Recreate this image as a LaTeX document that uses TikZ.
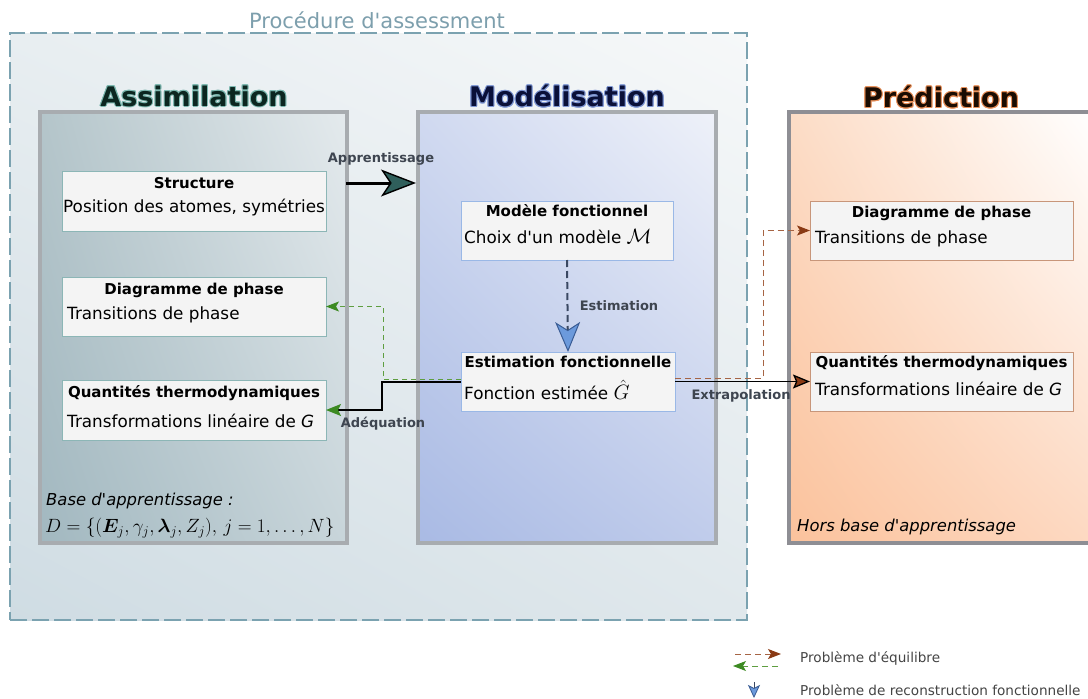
\documentclass[tikz,border=0pt]{standalone}
\usepackage{fontspec}
\usepackage{amsmath,amssymb,bm}
\setmainfont{DejaVu Sans}[Ligatures=TeXOff]
\usetikzlibrary{arrows.meta,calc,shadings}
\definecolor{outerLL}{HTML}{CFDCE3}
\definecolor{outerUL}{HTML}{E8EEF1}
\definecolor{outerUR}{HTML}{F6F8F9}
\definecolor{outerLR}{HTML}{E0E8EC}
\definecolor{outerDash}{HTML}{7BA2B0}
\definecolor{titleGray}{HTML}{7D9FAD}
\definecolor{assLL}{HTML}{A2B8C0}
\definecolor{assUL}{HTML}{B4C5CA}
\definecolor{assUR}{HTML}{E4EAED}
\definecolor{assLR}{HTML}{C8D5DA}
\definecolor{modLL}{HTML}{A9BAE4}
\definecolor{modUL}{HTML}{D0D9F0}
\definecolor{modUR}{HTML}{EEF1F9}
\definecolor{modLR}{HTML}{C0CCEB}
\definecolor{preLL}{HTML}{FBC29C}
\definecolor{preUL}{HTML}{FCDCC6}
\definecolor{preUR}{HTML}{FFFFFF}
\definecolor{preLR}{HTML}{FDD9C2}
\definecolor{panelBorder}{HTML}{A8ACB0}
\definecolor{predBorder}{HTML}{8E8E94}
\definecolor{boxFill}{HTML}{F4F4F4}
\definecolor{tealB}{HTML}{8CB6B6}
\definecolor{blueB}{HTML}{9AB8E6}
\definecolor{brownB}{HTML}{C8967A}
\definecolor{lblGray}{HTML}{3E4550}
\definecolor{apprFill}{HTML}{2F5F5B}
\definecolor{estLine}{HTML}{3A4862}
\definecolor{estFill}{HTML}{6C9ADC}
\definecolor{estEdge}{HTML}{3A5C94}
\definecolor{grnHead}{HTML}{3C8A22}
\definecolor{grnDash}{HTML}{5E9E40}
\definecolor{brnHead}{HTML}{8A3A14}
\definecolor{brnDash}{HTML}{A66444}
\definecolor{assText}{HTML}{0C2620}
\definecolor{assGlow}{HTML}{7DB8B0}
\definecolor{modText}{HTML}{0A1038}
\definecolor{modGlow}{HTML}{8098D4}
\definecolor{preText}{HTML}{1A0C02}
\definecolor{preGlow}{HTML}{E8905A}
\definecolor{legText}{HTML}{444444}
\newcommand{\glowtitle}[5]{%
  \foreach \a in {0,30,...,330} \node[bigt, text=#4] at ($(#1,#2)+(\a:1.0)$) {#3};
  \node[bigt, text=#5] at (#1,#2) {#3};}
\begin{document}
\begin{tikzpicture}[x=1pt,y=-1pt,
  bigt/.style={font=\fontsize{27}{30}\selectfont\bfseries, inner sep=0},
  panel/.style={line width=4pt, inner sep=0, outer sep=0, draw=panelBorder},
  infobox/.style={draw, fill=boxFill, line width=1pt, inner sep=0, outer sep=0},
  boxtitle/.style={font=\fontsize{15}{17}\selectfont\bfseries, inner sep=0},
  boxbody/.style={font=\fontsize{16.8}{19}\selectfont, inner sep=0, anchor=west},
  lbl/.style={font=\fontsize{13}{15}\selectfont\bfseries, text=lblGray, inner sep=0},
  legtxt/.style={font=\fontsize{13.6}{15}\selectfont, text=legText, inner sep=0, anchor=west},
  ital/.style={font=\fontsize{16.4}{18}\selectfont\itshape, inner sep=0, anchor=west}]
\useasboundingbox (0,0) rectangle (1088,699);
\fill[white] (0,0) rectangle (1088,699);

% outer procedure box
\node[inner sep=0, outer sep=0, minimum width=737, minimum height=587,
  lower left=outerLL, upper left=outerUL, upper right=outerUR, lower right=outerLR,
  draw=outerDash, line width=2.5pt, dash pattern=on 17pt off 5pt] (proc) at (378.5,326.5) {};
\node[font=\fontsize{21}{24}\selectfont, text=titleGray, inner sep=0] (proct) at (377,20) {Procédure d'assessment};

% panels
\node[panel, minimum width=307, minimum height=431,
  lower left=assLL, upper left=assUL, upper right=assUR, lower right=assLR] (assim) at (193.5,327.5) {};
\node[panel, minimum width=298, minimum height=431,
  lower left=modLL, upper left=modUL, upper right=modUR, lower right=modLR] (model) at (567,327.5) {};
\node[panel, draw=predBorder, minimum width=306, minimum height=431,
  lower left=preLL, upper left=preUL, upper right=preUR, lower right=preLR] (pred) at (942,327.5) {};

\glowtitle{194}{96}{Assimilation}{assGlow}{assText}
\glowtitle{567}{96}{Modélisation}{modGlow}{modText}
\glowtitle{941}{97}{Prédiction}{preGlow}{preText}

% Assimilation boxes
\node[infobox, draw=tealB, minimum width=264, minimum height=60] (struct) at (194,201) {};
\node[boxtitle] (structT) at ($(struct.north)+(0,12)$) {Structure};
\node[boxbody] (structB) at ($(struct.north west)+(1,37)$) {Position des atomes, symétries};

\node[infobox, draw=tealB, minimum width=264, minimum height=59] (diagL) at (194,306.5) {};
\node[boxtitle] (diagLT) at ($(diagL.north)+(0,13)$) {Diagramme de phase};
\node[boxbody] (diagLB) at ($(diagL.north west)+(5,38)$) {Transitions de phase};

\node[infobox, draw=tealB, minimum width=264, minimum height=60] (quantL) at (194,410) {};
\node[boxtitle] (quantLT) at ($(quantL.north)+(0,13)$) {Quantités thermodynamiques};
\node[boxbody] (quantLB) at ($(quantL.north west)+(5,41)$) {Transformations linéaire de \textit{G}};

\node[ital] (baseT) at (46,501) {Base d'apprentissage :};
\node[inner sep=0, anchor=west, font=\fontsize{17.28}{20}\selectfont] (baseM) at (45,528)
  {\scalebox{1.11}{$D=\{(\boldsymbol{E}_j,\gamma_j,\boldsymbol{\lambda}_j,Z_j),\,j=1,\ldots,N\}$}};

% Modelisation boxes
\node[infobox, draw=blueB, minimum width=212, minimum height=59] (modele) at (567,230.5) {};
\node[boxtitle] (modeleT) at ($(modele.north)+(0,10)$) {Modèle fonctionnel};
\node[boxbody] (modeleB) at ($(modele.north west)+(3,36)$) {Choix d'un modèle {\fontsize{20}{22}\selectfont$\mathcal{M}$}};

\node[infobox, draw=blueB, minimum width=214, minimum height=59] (estim) at (568,381.5) {};
\node[boxtitle] (estimT) at ($(estim.north)+(0,10)$) {Estimation fonctionnelle};
\node[boxbody] (estimB) at ($(estim.north west)+(3,38)$) {Fonction estimée {\fontsize{20}{22}\selectfont$\hat{G}$}};

% Prediction boxes
\node[infobox, draw=brownB, minimum width=263, minimum height=59] (diagR) at (941.5,230.5) {};
\node[boxtitle] (diagRT) at ($(diagR.north)+(0,12)$) {Diagramme de phase};
\node[boxbody] (diagRB) at ($(diagR.north west)+(5,38)$) {Transitions de phase};

\node[infobox, draw=brownB, minimum width=263, minimum height=59] (quantR) at (941.5,381.5) {};
\node[boxtitle] (quantRT) at ($(quantR.north)+(0,11)$) {Quantités thermodynamiques};
\node[boxbody] (quantRB) at ($(quantR.north west)+(5,37)$) {Transformations linéaire de \textit{G}};

\node[ital] (horsT) at (797,527) {Hors base d'apprentissage};

% Apprentissage arrow
\coordinate (apA) at (346,183);
\coordinate (apB) at (416,183);
\draw[line width=3pt, -{Stealth[length=35pt, width=27pt, inset=9pt, fill=apprFill, line width=1.4pt]}] (apA) -- (apB);
\node[lbl] (apL) at (381,159) {Apprentissage};

% Estimation arrow
\draw[estLine, line width=2pt, dash pattern=on 7pt off 4pt,
  -{Stealth[length=30pt, width=25pt, inset=8pt, color=estEdge, fill=estFill, line width=1pt]}] (modele.south) -- (estim.north);
\node[lbl] (estL) at (619,306) {Estimation};

% Adequation (black with green head) and green dashed
\draw[black, line width=1.3pt, -{Stealth[length=15pt, width=12pt, inset=3pt, color=grnHead]}]
  ($(estim.west)+(0,0.5)$) -- (382,382) |- (quantL.east);
\draw[grnDash, line width=1pt, dash pattern=on 5pt off 4pt, -{Stealth[length=13pt, width=10pt, inset=3pt, color=grnHead]}]
  ($(estim.west)+(0,-2.5)$) -- (383,379) |- (diagL.east);
\node[lbl] (adL) at (383,424) {Adéquation};

% Extrapolation (black with brown head) and brown dashed
\draw[brnDash, line width=1pt, dash pattern=on 6pt off 4pt, -{Stealth[length=13pt, width=10pt, inset=3pt, color=brnHead]}]
  ($(estim.east)+(0,-3.5)$) -- (763,378) |- (diagR.west);
\draw[black, line width=1.3pt, -{Stealth[length=17pt, width=14pt, inset=3pt, fill=brnHead]}]
  (estim.east) -- (quantR.west);
\node[lbl] (exL) at (741,396) {Extrapolation};

% Legend
\coordinate (l1a) at (735,654);
\coordinate (l1b) at (781,654);
\coordinate (l2a) at (778,666);
\coordinate (l2b) at (733,666);
\draw[brnDash, line width=1pt, dash pattern=on 6pt off 4pt, -{Stealth[length=13pt, width=10pt, inset=3pt, color=brnHead]}] (l1a) -- (l1b);
\draw[grnDash, line width=1pt, dash pattern=on 6pt off 4pt, -{Stealth[length=13pt, width=10pt, inset=3pt, color=grnHead]}] (l2a) -- (l2b);
\coordinate (l3a) at (754,682);
\coordinate (l3b) at (754,698);
\draw[estLine, line width=1pt, -{Stealth[length=13pt, width=12pt, inset=3pt, color=estEdge, fill=estFill, line width=0.8pt]}] (l3a) -- (l3b);
\node[legtxt] (leg1) at (800,658) {Problème d'équilibre};
\node[legtxt] (leg2) at (800,690) {Problème de reconstruction fonctionnelle};
\end{tikzpicture}
\end{document}
